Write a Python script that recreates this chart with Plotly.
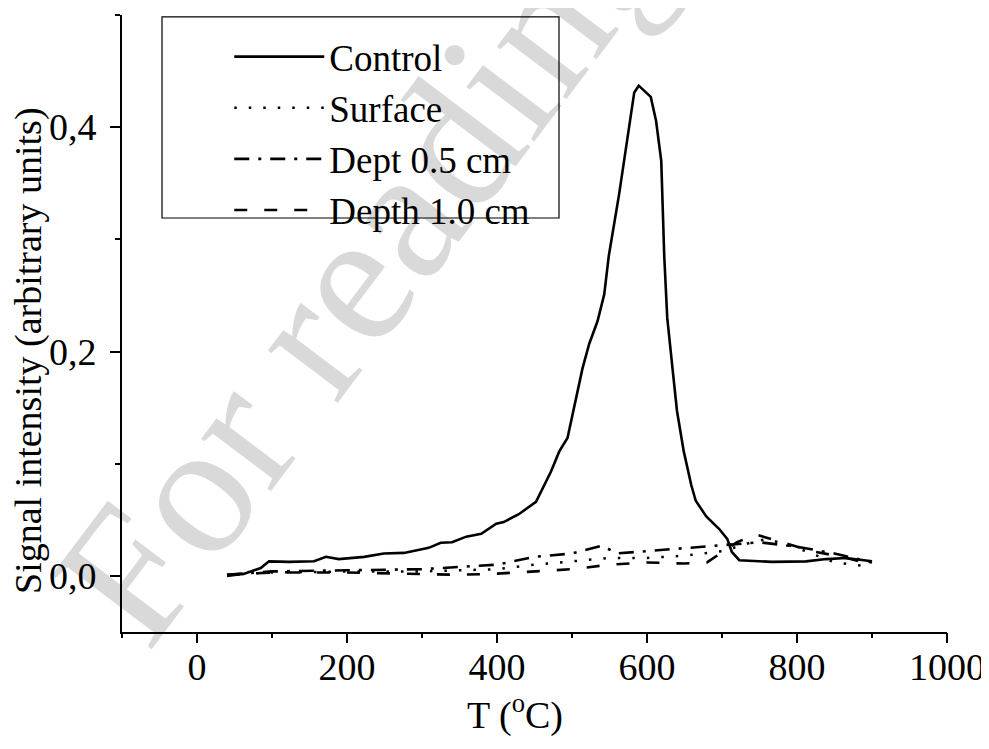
import plotly.graph_objects as go

# ---- data ----
control_T = [40, 63, 85, 96, 123, 156, 172, 189, 223, 249, 276, 309, 325, 340, 359, 379, 399, 409,
             429, 452, 472, 483, 494, 505, 514, 523, 534, 543, 549, 563, 576, 583, 589, 605, 612,
             619, 623, 627, 634, 640, 649, 659, 665, 679, 696, 707, 713, 723, 767, 812, 839, 865, 900]
control_I = [0.000, 0.002, 0.007, 0.013, 0.0125, 0.013, 0.017, 0.015, 0.017, 0.020, 0.0205, 0.025,
             0.0295, 0.030, 0.035, 0.0375, 0.0465, 0.048, 0.055, 0.066, 0.093, 0.111, 0.123, 0.156,
             0.185, 0.207, 0.227, 0.251, 0.285, 0.341, 0.400, 0.431, 0.437, 0.427, 0.406, 0.370,
             0.285, 0.230, 0.185, 0.147, 0.111, 0.081, 0.067, 0.053, 0.042, 0.033, 0.0215, 0.014,
             0.0125, 0.013, 0.015, 0.016, 0.013]

surface_T = [40, 100, 200, 300, 400, 450, 500, 550, 600, 650, 700, 740, 760, 800, 850, 900]
surface_I = [0.001, 0.003, 0.004, 0.004, 0.006, 0.010, 0.013, 0.016, 0.016, 0.018, 0.022, 0.030,
             0.033, 0.025, 0.012, 0.008]

dept05_T = [40, 100, 200, 300, 400, 450, 500, 540, 560, 600, 650, 700, 750, 800, 850, 900]
dept05_I = [0.001, 0.004, 0.005, 0.006, 0.010, 0.017, 0.020, 0.027, 0.020, 0.022, 0.025, 0.027,
            0.030, 0.026, 0.020, 0.012]

depth10_T = [40, 100, 200, 300, 350, 400, 450, 500, 550, 600, 650, 680, 720, 745, 780, 820, 860, 900]
depth10_I = [0.001, 0.003, 0.003, 0.002, 0.001, 0.002, 0.004, 0.006, 0.010, 0.012, 0.011, 0.012,
             0.030, 0.037, 0.030, 0.022, 0.017, 0.010]

series_names = ["Control", "Surface", "Dept 0.5 cm", "Depth 1.0 cm"]

x_tickvals = [0, 200, 400, 600, 800, 1000]
x_ticktext = ["0", "200", "400", "600", "800", "1000"]
y_tickvals = [0.0, 0.2, 0.4]
y_ticktext = ["0,0", "0,2", "0,4"]

x_title = "T (<sup>o</sup>C)"
y_title = "Signal intensity (arbitrary units)"

FONT = "Times New Roman, Liberation Serif, serif"
TF = dict(family=FONT, size=38, color="black")
LF = dict(family=FONT, size=37, color="black")

fig = go.Figure()
fig.add_trace(go.Scatter(x=control_T, y=control_I, mode="lines", name=series_names[0],
                         line=dict(color="black", width=2.6)))
fig.add_trace(go.Scatter(x=surface_T, y=surface_I, mode="lines", name=series_names[1],
                         line=dict(color="black", width=2.5, dash="2.5px,12px")))
fig.add_trace(go.Scatter(x=dept05_T, y=dept05_I, mode="lines", name=series_names[2],
                         line=dict(color="black", width=2.6, dash="15px,9px,3px,9px")))
fig.add_trace(go.Scatter(x=depth10_T, y=depth10_I, mode="lines", name=series_names[3],
                         line=dict(color="black", width=2.6, dash="13px,17px")))
# empty trace to carry the tick-mark axis
fig.add_trace(go.Scatter(x=[], y=[], xaxis="x2", showlegend=False, hoverinfo="skip"))

fig.update_layout(
    xaxis=dict(range=[-100, 1000], tickmode="array", tickvals=x_tickvals, ticktext=x_ticktext,
               showline=True, linecolor="black", linewidth=2, ticks="", ticklabelstandoff=0,
               showgrid=False, zeroline=False, tickfont=TF, automargin=False),
    xaxis2=dict(range=[-100, 1000], overlaying="x", anchor="y", side="bottom",
                tickmode="array", tickvals=x_tickvals, showticklabels=False,
                ticks="outside", ticklen=10, tickwidth=2, tickcolor="black",
                minor=dict(ticks="outside", tickmode="linear", tick0=-100, dtick=100, ticklen=5,
                           tickwidth=2, tickcolor="black"),
                showline=False, showgrid=False, zeroline=False, automargin=False),
    yaxis=dict(range=[-0.05, 0.5], tickmode="array", tickvals=y_tickvals, ticktext=y_ticktext,
               showline=True, linecolor="black", linewidth=2, ticks="outside", ticklen=10,
               tickwidth=2, tickcolor="black", ticklabelstandoff=6,
               minor=dict(ticks="outside", tickmode="linear", tick0=0.1, dtick=0.2, ticklen=5,
                          tickwidth=2, tickcolor="black"),
               showgrid=False, zeroline=False, tickfont=TF, automargin=False),
)

# axis titles (placed as in the reference)
fig.add_annotation(text=x_title, xref="paper", yref="paper", x=0.476, y=-0.13,
                   xanchor="center", yanchor="middle", showarrow=False, font=TF)
fig.add_annotation(text=y_title, xref="paper", yref="paper", x=-0.114, y=0.457,
                   xanchor="center", yanchor="middle", showarrow=False, textangle=-90, font=TF)

# legend frame
fig.add_shape(type="rect", xref="paper", yref="paper", x0=0.0485, x1=0.5297, y0=0.671, y1=0.9968,
              line=dict(color="black", width=1.2), fillcolor="rgba(0,0,0,0)", layer="above")

# watermark
fig.add_annotation(text="For reading only", xref="paper", yref="paper", x=0.432, y=0.845,
                   xanchor="center", yanchor="middle", showarrow=False, textangle=-53,
                   font=dict(family=FONT, size=190, color="rgba(0,0,0,0.15)"))

fig.update_layout(
    width=981, height=741,
    margin=dict(l=114, r=42, t=7, b=117),
    paper_bgcolor="white", plot_bgcolor="white",
    font=TF,
    showlegend=True,
    legend=dict(x=0.13, y=0.982, xanchor="left", yanchor="top", bgcolor="rgba(0,0,0,0)",
                borderwidth=0, itemwidth=90, font=LF, tracegroupgap=0),
)

fig.write_html("out.html")
